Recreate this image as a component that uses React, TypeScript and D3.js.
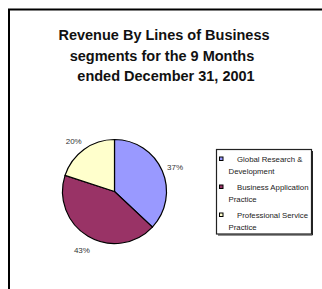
import { useEffect, useMemo } from "react";
import * as d3 from "d3";

const WIDTH = 322;
const HEIGHT = 289;

const categories = ["Global Research & Development", "Business Application Practice", "Professional Service Practice"];
const values = [37, 43, 20];
const labels = ["37%", "43%", "20%"];
const COLORS = ["#9999ff", "#993366", "#ffffcc"];
const legendLines = [
  ["Global Research &", "Development"],
  ["Business Application", "Practice"],
  ["Professional Service", "Practice"],
];
const titleLines = ["Revenue By Lines of Business", "segments for the 9 Months\u00a0", "\u00a0ended December 31, 2001"];

const CX = 114.5;
const CY = 191.5;
const RADIUS = 52;
const FONT = "Arial, 'Liberation Sans', sans-serif";

export default function App() {
  useEffect(() => {
    document.body.style.margin = "0";
    document.body.style.overflow = "hidden";
  }, []);

  const arcs = useMemo(() => {
    return d3.pie<number>().sort(null).value((d) => d)(values);
  }, []);

  const arcGen = d3.arc<d3.PieArcDatum<number>>().innerRadius(0).outerRadius(RADIUS);
  const labelArc = d3.arc<d3.PieArcDatum<number>>().innerRadius(RADIUS + 14).outerRadius(RADIUS + 14);

  const colorScale = d3.scaleOrdinal<string>().domain(categories).range(COLORS);

  // small nudges so labels sit where the reference puts them
  const labelShift = [
    [0, 2],
    [1, 2],
    [-2, 3],
  ];

  const slices = arcs.map((a, i) => (
    <path key={i} d={arcGen(a) || ""} fill={colorScale(categories[i])} stroke="#000" strokeWidth={1.2} />
  ));

  const pieLabels = arcs.map((a, i) => {
    const [x, y] = labelArc.centroid(a);
    return (
      <text
        key={i}
        x={x + labelShift[i][0]}
        y={y + labelShift[i][1]}
        textAnchor="middle"
        dominantBaseline="central"
        fontSize={8}
        fill="#333"
        fontFamily={FONT}
      >
        {labels[i]}
      </text>
    );
  });

  const legendY = d3.scaleBand().domain(categories).range([151, 235]).padding(0);

  const legend = categories.map((c, i) => {
    const y = legendY(c) || 0;
    return (
      <g key={i}>
        <rect x={219.5} y={y + 6} width={3.5} height={3.5} fill={colorScale(c)} stroke="#000" strokeWidth={1} />
        <text x={237} y={y + 8} dominantBaseline="central" fontSize={7.8} fill="#222" fontFamily={FONT}>
          {legendLines[i][0]}
        </text>
        <text x={228.5} y={y + 20.5} dominantBaseline="central" fontSize={7.8} fill="#222" fontFamily={FONT}>
          {legendLines[i][1]}
        </text>
      </g>
    );
  });

  return (
    <svg width={WIDTH} height={HEIGHT} style={{ background: "#fff", display: "block" }}>
      <line x1={8} y1={9.5} x2={WIDTH} y2={9.5} stroke="#000" strokeWidth={2} />
      <line x1={9} y1={9} x2={9} y2={HEIGHT} stroke="#000" strokeWidth={2} />
      <g>
        {titleLines.map((t, i) => (
          <text
            key={i}
            x={164}
            y={35 + i * 20.5}
            textAnchor="middle"
            dominantBaseline="central"
            fontSize={14.5}
            fontWeight="bold"
            fill="#111"
            fontFamily={FONT}
            style={{ whiteSpace: "pre" }}
          >
            {t}
          </text>
        ))}
      </g>
      <g transform={`translate(${CX},${CY})`}>
        <g>{slices}</g>
        <g>{pieLabels}</g>
      </g>
      <rect x={216.5} y={149.5} width={95} height={84.5} fill="#fff" stroke="#222" strokeWidth={1.2} />
      <line x1={312.5} y1={151} x2={312.5} y2={235} stroke="#222" strokeWidth={1} />
      <line x1={218} y1={235} x2={312.5} y2={235} stroke="#222" strokeWidth={1} />
      <g>{legend}</g>
    </svg>
  );
}
